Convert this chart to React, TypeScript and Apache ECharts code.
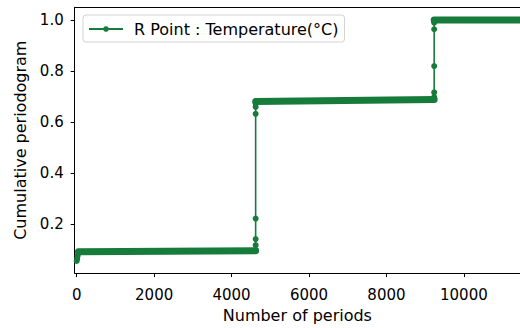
import React, { useEffect, useRef } from "react";
import * as echarts from "echarts";

const seriesName = "R Point : Temperature(°C)";
// key points of the cumulative periodogram [period index, value]
const curveX = [0, 12, 25, 45, 4600, 4622, 4622, 4622, 4622, 4622, 4622, 4622, 4640, 9215, 9233, 9233, 9233, 9233, 9233, 9233, 9255, 11600];
const curveY = [0.057, 0.066, 0.078, 0.093, 0.097, 0.100, 0.119, 0.143, 0.223, 0.633, 0.660, 0.674, 0.681, 0.689, 0.699, 0.717, 0.820, 0.964, 0.990, 0.997, 1.0, 1.0];
// dense plateaus (drawn as a thick band of overlapping markers)
const plateauX = [45, 4622, null, 4622, 9233, null, 9233, 11600];
const plateauY = [0.093, 0.097, null, 0.681, 0.689, null, 1.0, 1.0];
const xTicks = [0, 2000, 4000, 6000, 8000, 10000];
const yTicks = [0.2, 0.4, 0.6, 0.8, 1.0];

const GREEN = "#177c3b";
const FONT = "DejaVu Sans";

export default function App() {
  const ref = useRef<HTMLDivElement>(null);
  useEffect(() => {
    if (!ref.current) return;
    const chart = echarts.init(ref.current, null, { renderer: "svg" });
    const curve = curveX.map((x, i) => [x, curveY[i]]);
    const plateau = plateauX.map((x, i) => (x === null ? "-" : [x, plateauY[i]]));
    chart.setOption({
      animation: false,
      backgroundColor: "#fff",
      grid: {
        left: 74.7,
        top: 7.3,
        right: 0,
        bottom: 53,
        show: false,
      },
      legend: {
        left: 83,
        top: 15,
        data: [seriesName],
        itemWidth: 34,
        itemHeight: 7,
        padding: [6, 6, 5, 5],
        backgroundColor: "rgba(255,255,255,0.8)",
        borderColor: "#d3d3d3",
        borderWidth: 1,
        borderRadius: 3,
        textStyle: { fontFamily: FONT, fontSize: 16, color: "#000", padding: [0, 0, 0, 6] },
      },
      xAxis: [
        {
          type: "value",
          min: -52,
          max: 11450,
          interval: 2000,
          name: "Number of periods",
          nameLocation: "middle",
          nameGap: 33,
          nameTextStyle: { fontFamily: FONT, fontSize: 16, color: "#000" },
          axisLine: { show: true, onZero: false, lineStyle: { color: "#000", width: 1 } },
          axisTick: { show: true, length: 4, lineStyle: { color: "#000" }, customValues: xTicks },
          axisLabel: {
            fontFamily: FONT,
            fontSize: 15,
            color: "#000",
            margin: 14,
            customValues: xTicks,
            showMinLabel: true,
            showMaxLabel: true,
            formatter: (v: number) => String(v),
          },
          splitLine: { show: false },
        },
        {
          type: "value",
          position: "top",
          min: -52,
          max: 11450,
          interval: 2000,
          axisLine: { show: true, onZero: false, lineStyle: { color: "#000", width: 1 } },
          axisTick: { show: false },
          axisLabel: { show: false },
          splitLine: { show: false },
        },
      ],
      yAxis: {
        type: "value",
        min: 0.0097,
        max: 1.05,
        name: "Cumulative periodogram",
        nameLocation: "middle",
        nameGap: 45,
        nameTextStyle: { fontFamily: FONT, fontSize: 16, color: "#000" },
        axisLine: { show: true, onZero: false, lineStyle: { color: "#000", width: 1 } },
        axisTick: { show: true, length: 4, lineStyle: { color: "#000" }, customValues: yTicks },
        axisLabel: {
          fontFamily: FONT,
          fontSize: 15,
          color: "#000",
          margin: 11,
          customValues: yTicks,
          formatter: (v: number) => v.toFixed(1),
        },
        splitLine: { show: false },
      },
      series: [
        {
          name: "plateau",
          type: "line",
          data: plateau,
          connectNulls: false,
          showSymbol: false,
          silent: true,
          lineStyle: { color: GREEN, width: 7, cap: "round", join: "round" },
          z: 2,
        },
        {
          name: seriesName,
          type: "line",
          data: curve,
          symbol: "circle",
          symbolSize: 6,
          showSymbol: true,
          showAllSymbol: true,
          itemStyle: { color: GREEN },
          lineStyle: { color: GREEN, width: 1.6 },
          z: 3,
        },
      ],
    });
    return () => chart.dispose();
  }, []);
  return (
    <div
      ref={ref}
      style={{ position: "fixed", left: 0, top: 0, width: 520, height: 328 }}
    />
  );
}
